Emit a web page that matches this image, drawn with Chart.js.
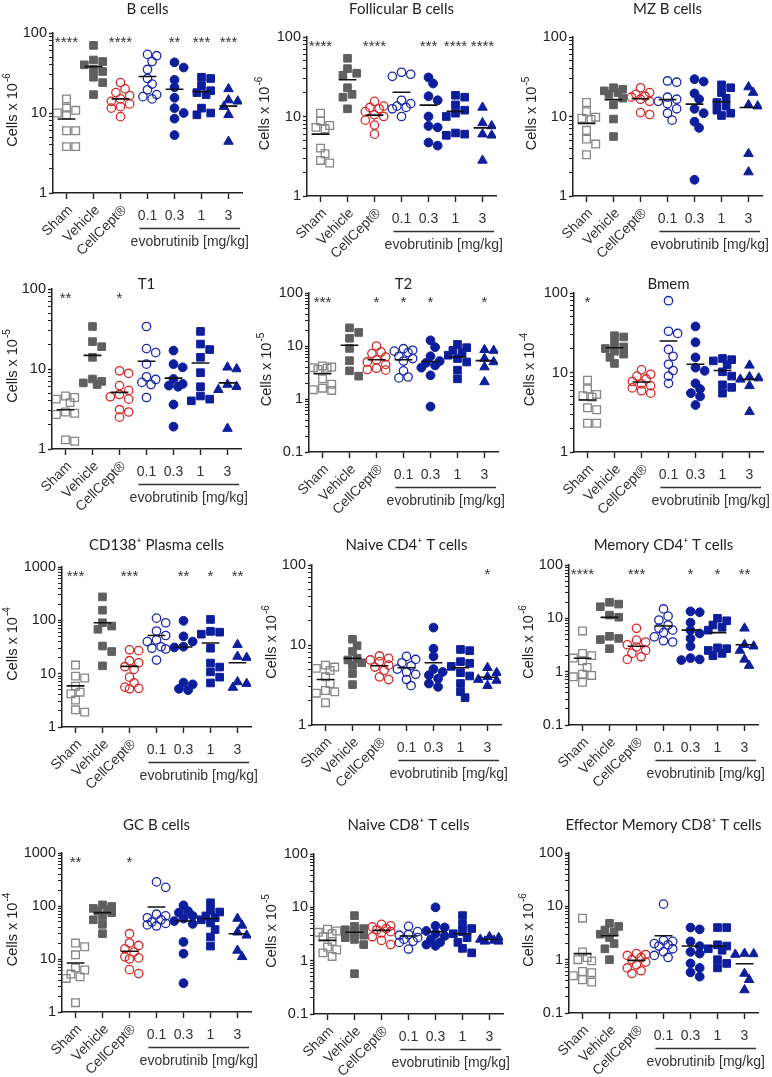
<!DOCTYPE html>
<html><head><meta charset="utf-8">
<script src="https://cdn.jsdelivr.net/npm/chart.js@4.4.1/dist/chart.umd.min.js"></script>
<style>
html,body{margin:0;padding:0;background:#fff;}
body{width:772px;height:1077px;position:relative;overflow:hidden;}
canvas.p{position:absolute;}
</style></head><body>
<script>
// ---------- categories / labels ----------
const groups = ["Sham", "Vehicle", "CellCept®", "0.1", "0.3", "1", "3"];
const doseLabel = "evobrutinib [mg/kg]";

// ---------- B cells (x10^-6) ----------
const bCells = [[15,11.5,10.8,10,9.5,6,6,3.8,3.8],[70,46,44,40,35,33,28,24,17],[24,20,18,16.5,15,14,13,12,11.5,9],[54,52,44,35,27,23,19.5,17,16,15],[43,37,26,21,15.5,11.5,10,8.5,5.3],[28,27,22,19,18,17,11.5,10,9.5],[20,14.5,14,12,9.5,4.4]];
const bCellsMeans = [8.4,38,15,28.6,19.8,18.5,12.2];
const bCellsStars = ["****","","****","","**","***","***"];
// ---------- Follicular B cells (x10^-6) ----------
const follB = [[11,8.8,7.7,7.3,7,4,3.4,2.8,2.6],[54,40,35,33,23,19,17.5,12.5],[15.5,13.5,13,12.5,11.5,10.5,10,9,7.8,6],[36,34,32,16,14.5,13.5,13,12.5,10],[31,26,18,16,10,7.6,7.3,4.7,4.3],[18.5,17.5,14,12,11,10,6.2,6,5.8],[13,8.3,7.6,6,5.8,2.8]];
const follBMeans = [6.0,29,10.4,20.2,13.9,11.6,7.2];
const follBStars = ["****","","****","","***","****","****"];
// ---------- MZ B cells (x10^-5) ----------
const mzB = [[15,11.5,9.8,9.5,9.2,6.7,5.2,4.5,3.3],[23,22,21,20,19,17,14,9.3,5.6],[23,20,19,18,17.5,16.5,15.5,11.2,10.6],[28,27,17.5,16.5,15.5,14.5,12.5,11,9],[29.5,27.5,19.5,16.5,12.5,11,8.6,7.2,1.6],[25,23,20,17,15,13.5,12,11,10.3],[23.5,20,14,13.5,3.4,2]];
const mzBMeans = [8.2,16.3,16.7,16.3,14.3,15.3,13];
const mzBStars = ["","","","","","",""];
// ---------- T1 (x10^-5) ----------
const t1 = [[4.6,4.4,4.2,3.8,2.9,2.8,2.7,1.3,1.25],[34,22,19,14,7.5,7,6.7,6.4],[9.5,8.8,6.2,5.4,4.8,4.5,4.2,3.1,2.9,2.5],[34,18,16,11.5,8,7.4,6.8,6.4,4.4],[17,11.5,10.5,7.5,6.5,6.2,6,3.6,1.9],[29.5,20.5,17.5,14,9,6,4.6,4.2,4],[10.5,10,6.4,6,5.5,1.8]];
const t1Means = [3.1,14.8,5.1,12.5,7.7,11.9,6.7];
const t1Stars = ["**","","*","","","",""];
// ---------- T2 (x10^-5) ----------
const t2 = [[4.2,4.0,3.9,3.8,3.6,2.4,1.9,1.6,1.5,1.45],[22,18,14,9,5.3,3.4,2.7],[10,7.7,7.2,6.2,5.5,5,4.5,3.8,3.6,3.5],[8.9,8.3,8,7.5,6.4,5.8,5.2,3.4,2.6,2.5],[12.8,9.5,6.4,5.2,4.8,4.3,3.9,2.8,0.72],[10.7,9.3,8.3,7.5,6.7,5.8,5,3.5,2.4],[8.5,8.2,5.8,5,4,2.1]];
const t2Means = [3.0,10.3,5.5,5.5,5.1,6.2,5.3];
const t2Stars = ["***","","*","*","*","","*"];
// ---------- Bmem (x10^-4) ----------
const bmem = [[8,6.2,5.3,5.1,4.9,3.6,3.4,2.3,2.3],[29,28,23,21,20,18.5,17,15.5,13],[10.8,9.5,9,8.3,7.7,7.2,6.8,6.4,5.9,5.5],[80,33,31,19.5,16,12.7,10.6,9,7.3],[38,24,15.5,11.5,10.5,7.3,6.2,5.5,5,3.9],[15,14.5,14,12.5,10.2,9,7,6.5,5.5],[12.3,8.8,8.5,8.2,6.8,3.2]];
const bmemMeans = [4.5,20.5,7.6,24.9,12.7,10.6,8.2];
const bmemStars = ["*","","","","","",""];
// ---------- CD138+ Plasma cells (x10^-4) ----------
const cd138 = [[14.5,9,8.3,5.8,4.5,4.2,3.2,2.1,1.9],[275,155,90,78,68,33,26,14],[28,27,17.5,16,13.5,12,8.6,6.7,5.6,5.3,5.2],[110,90,63,52,43,40,32,30,29,18],[98,50,40,32,31,6.8,6.3,5.2,4.9],[104,62,60,55,30,15.8,13.3,10.8,8.6,6.7],[35,21,20,7,6.5,5.5]];
const cd138Means = [5.9,90,13.7,52,31.6,37.5,16];
const cd138Stars = ["***","","***","","**","*","**"];
// ---------- Naive CD4+ T cells (x10^-6) ----------
const naiveCD4 = [[5.6,5.3,5.1,4.8,4.0,3.3,2.7,2.6,2.5,1.9],[11.8,9.8,8.3,6.8,6.5,6,5.6,4.4,3.2],[7.3,6.8,6.5,6.2,5.6,5.3,4.8,4.0,3.7],[7.2,6.6,6,5.5,5,4.6,4.3,3.7,3.1],[16.5,9,7.2,5,4.6,4.2,3.8,3.3,3],[8.8,8.5,6.2,5.9,5.4,4.5,4.1,3.3,2.6,2.2],[5.2,4.5,4.0,3.7,3.6,3.1]];
const naiveCD4Means = [3.7,6.8,5.5,5.2,6.0,5.2,3.95];
const naiveCD4Stars = ["","","","","","","*"];
// ---------- Memory CD4+ T cells (x10^-6) ----------
const memCD4 = [[5.8,2.2,2.0,1.8,1.6,1.2,0.9,0.85,0.8,0.63],[20,18.5,16.5,11.5,10.5,4.6,4.2,4.0,2.7],[6.5,3.9,3.6,3.2,2.9,2.5,2.2,1.9,1.7],[15,11,9.3,7.5,6.5,6,5.4,4.5,3.8,3.6],[13.5,13,8.3,6,5.2,4.2,3,1.8,1.7,1.65],[10,9,7.5,6.8,6,2.8,2.7,2.5,2.2,2],[6.5,3.2,3,2.5,1.7,1.3]];
const memCD4Means = [1.78,10.4,3.0,7.2,6.0,5.4,3.2];
const memCD4Stars = ["****","","***","","*","*","**"];
// ---------- GC B cells (x10^-4) ----------
const gcB = [[20,17,12,6.8,6.2,5.2,4.6,4.3,1.5],[105,98,90,85,80,75,65,55,45,30],[30,20,18,15.5,13.5,11,10.5,10,6.3,5.3],[285,225,70,65,60,55,50,47,44,42],[103,80,75,65,58,52,46,21,12.6,3.5],[115,83,77,65,60,55,48,36,26,17.5],[58,43,32,28,14.5,11]];
const gcBMeans = [8.4,75,14,96,52,58,30];
const gcBStars = ["**","","*","","","",""];
// ---------- Naive CD8+ T cells (x10^-5) ----------
const naiveCD8 = [[3.9,3.6,3.4,3.2,2.8,2.3,1.8,1.6,1.4,1.2],[7,4.4,4,3.8,3.4,3,2.7,2.5,2,0.57],[4.8,4.5,4.3,4,3.8,3.5,3.3,2.8,2.4,2.0],[4.4,3.5,3.1,3,2.7,2.5,2.3,2.2,1.65],[10,4.5,4.2,3.6,3.2,2.9,2.5,2.2,2.0,1.9],[7,4.8,4,3.5,3.2,2.7,2.2,1.7,1.4],[2.8,2.7,2.5,2.4,2.3,2.3]];
const naiveCD8Means = [2.4,3.4,3.7,2.9,3.5,3.2,2.5];
const naiveCD8Stars = ["","","","","","",""];
// ---------- Effector Memory CD8+ T cells (x10^-6) ----------
const effCD8 = [[6,1.4,1.1,1.0,0.95,0.6,0.57,0.5,0.42,0.38],[4.8,4.2,3.6,3.3,3,2.6,2,1.6,1.0],[1.3,1.25,1.2,1.1,1.0,0.9,0.8,0.7,0.62,0.55],[11,2.3,2.2,2.0,1.9,1.8,1.6,1.4,1.2,1.1],[4,3.7,2.2,1.8,1.4,1.3,0.85,0.7,0.58,0.48],[4,4,1.9,1.8,1.6,1.5,1.0,0.85,0.7],[1.3,1.28,1.25,0.55,0.42,0.27]];
const effCD8Means = [1.3,2.8,0.97,2.8,1.8,1.8,0.84];
const effCD8Stars = ["","","","","","",""];

// ---------- panel definitions ----------
const panels = [
  {title:"B cells", yExp:"-6", min:1, max:100, vals:bCells, means:bCellsMeans, stars:bCellsStars},
  {title:"Follicular B cells", yExp:"-6", min:1, max:100, vals:follB, means:follBMeans, stars:follBStars},
  {title:"MZ B cells", yExp:"-5", min:1, max:100, vals:mzB, means:mzBMeans, stars:mzBStars},
  {title:"T1", yExp:"-5", min:1, max:100, vals:t1, means:t1Means, stars:t1Stars},
  {title:"T2", yExp:"-5", min:0.1, max:100, vals:t2, means:t2Means, stars:t2Stars},
  {title:"Bmem", yExp:"-4", min:1, max:100, vals:bmem, means:bmemMeans, stars:bmemStars},
  {title:"CD138\u207A Plasma cells", yExp:"-4", min:1, max:1000, vals:cd138, means:cd138Means, stars:cd138Stars},
  {title:"Naive CD4\u207A T cells", yExp:"-6", min:1, max:100, vals:naiveCD4, means:naiveCD4Means, stars:naiveCD4Stars},
  {title:"Memory CD4\u207A T cells", yExp:"-6", min:0.1, max:100, vals:memCD4, means:memCD4Means, stars:memCD4Stars},
  {title:"GC B cells", yExp:"-4", min:1, max:1000, vals:gcB, means:gcBMeans, stars:gcBStars},
  {title:"Naive CD8\u207A T cells", yExp:"-5", min:0.1, max:100, vals:naiveCD8, means:naiveCD8Means, stars:naiveCD8Stars},
  {title:"Effector Memory CD8\u207A T cells", yExp:"-6", min:0.1, max:100, vals:effCD8, means:effCD8Means, stars:effCD8Stars}
];
const yBase = "Cells x 10";

// ---------- page geometry (layout only) ----------
const geom = [
  {tx:13, ax:53, top:33, bot:193, ty:9},
  {tx:265, ax:307, top:37, bot:196, ty:9},
  {tx:532, ax:573, top:37, bot:196, ty:9},
  {tx:13, ax:52, top:289, bot:449, ty:284},
  {tx:267, ax:309, top:293, bot:452, ty:284},
  {tx:530, ax:574, top:293, bot:452, ty:284},
  {tx:13, ax:62, top:567, bot:727, ty:545},
  {tx:272, ax:312, top:565, bot:725, ty:545},
  {tx:529, ax:569, top:565, bot:725, ty:545},
  {tx:13, ax:62, top:853, bot:1012, ty:825},
  {tx:272, ax:314, top:854, bot:1014, ty:825},
  {tx:529, ax:569, top:853, bot:1013, ty:825}
];
const PLOT_W = 189, CAT_PX = 27;

const BLUE = '#0d1e9c';
const styles = [
  {ps:'rect', r:5.4, bg:'rgba(0,0,0,0)', bc:'#868686', bw:1.3},
  {ps:'rect', r:5.4, bg:'#5f5f5f', bc:'#5f5f5f', bw:1},
  {ps:'circle', r:4.2, bg:'rgba(0,0,0,0)', bc:'#d42a2a', bw:1.3},
  {ps:'circle', r:4.2, bg:'rgba(0,0,0,0)', bc:'#1b28aa', bw:1.3},
  {ps:'circle', r:4.4, bg:BLUE, bc:BLUE, bw:1},
  {ps:'rect', r:5.4, bg:BLUE, bc:BLUE, bw:1},
  {ps:'triangle', r:5.5, bg:BLUE, bc:BLUE, bw:1}
];

// deterministic beeswarm offsets (layout of points inside a category)
function swarm(vals, min, max, plotH) {
  const dec = Math.log10(max) - Math.log10(min);
  const D = 7.2, step = 0.17;
  const placed = [], offs = new Array(vals.length);
  const order = vals.map((v,i)=>i).sort((a,b)=>vals[b]-vals[a]);
  for (const i of order) {
    const y = (Math.log10(vals[i]) - Math.log10(min)) / dec * plotH;
    let best = 0, bestOv = Infinity;
    for (const c of [0, 1, -1, 2, -2]) {
      const x = c * step;
      let ov = 0;
      for (const p of placed) {
        const d = Math.hypot((p.x - x) * CAT_PX, p.y - y);
        if (d < D) ov += D - d;
      }
      if (ov === 0) { best = x; bestOv = 0; break; }
      if (ov < bestOv) { bestOv = ov; best = x; }
    }
    placed.push({x:best, y});
    offs[i] = best;
  }
  return offs;
}

const FONT = '"Liberation Sans", Arial, sans-serif';

const annot = {
  id: 'annot',
  afterDraw(chart, args, o) {
    const ctx = chart.ctx, xs = chart.scales.x, ca = chart.chartArea;
    ctx.save();
    // panel title
    ctx.fillStyle = '#222';
    ctx.font = '15px Lato, "Open Sans", sans-serif';
    ctx.textAlign = 'center'; ctx.textBaseline = 'middle';
    ctx.fillText(o.title, (ca.left + ca.right) / 2, o.titleY);
    // y-axis title with superscript exponent
    ctx.save();
    ctx.translate(o.yTitleX, (ca.top + ca.bottom) / 2 - 3);
    ctx.rotate(-Math.PI / 2);
    ctx.font = '14.5px ' + FONT;
    const wBase = ctx.measureText(yBase).width;
    ctx.font = '10px ' + FONT;
    const wExp = ctx.measureText(o.yExp).width;
    const x0 = -(wBase + wExp + 1) / 2;
    ctx.textAlign = 'left'; ctx.textBaseline = 'middle';
    ctx.font = '14.5px ' + FONT;
    ctx.fillText(yBase, x0, 0);
    ctx.font = '10px ' + FONT;
    ctx.fillText(o.yExp, x0 + wBase + 1, -6);
    ctx.restore();
    // significance stars
    ctx.textAlign = 'center'; ctx.textBaseline = 'middle';
    ctx.font = '15px ' + FONT; ctx.fillStyle = '#333';
    o.stars.forEach((s, i) => { if (s) ctx.fillText(s, xs.getPixelForValue(i), ca.top + 10); });
    // category labels
    ctx.font = '14px ' + FONT;
    ctx.textAlign = 'right'; ctx.textBaseline = 'middle';
    for (let i = 0; i < 3; i++) {
      const x = xs.getPixelForValue(i);
      ctx.save(); ctx.translate(x + 4, ca.bottom + 15); ctx.rotate(-Math.PI / 4);
      ctx.fillText(groups[i], 0, 0); ctx.restore();
    }
    ctx.font = '14px ' + FONT; ctx.textAlign = 'center';
    for (let i = 3; i < 7; i++) ctx.fillText(groups[i], xs.getPixelForValue(i), ca.bottom + 23);
    const a = xs.getPixelForValue(2.7), b = xs.getPixelForValue(6.43);
    ctx.strokeStyle = '#333'; ctx.lineWidth = 1.3;
    ctx.beginPath(); ctx.moveTo(a, ca.bottom + 35.5); ctx.lineTo(b, ca.bottom + 35.5); ctx.stroke();
    ctx.fillText(doseLabel, (a + b) / 2, ca.bottom + 49);
    ctx.restore();
  }
};

function fmt(v) {
  const l = Math.log10(v);
  if (Math.abs(l - Math.round(l)) > 1e-6) return '';
  const p = Math.round(l);
  return p < 0 ? (Math.pow(10, p)).toFixed(-p) : String(Math.pow(10, p));
}

panels.forEach((P, k) => {
  const g = geom[k];
  const left = g.tx - 12, yW = g.ax - left;
  const ctop = g.ty - 12, padTop = g.top - ctop;
  const plotH = g.bot - g.top;
  const xH = 6, bottomArea = 72;
  const W = yW + PLOT_W + 12, H = padTop + plotH + bottomArea;
  const cv = document.createElement('canvas');
  cv.className = 'p'; cv.width = W; cv.height = H;
  cv.style.left = left + 'px'; cv.style.top = ctop + 'px';
  cv.style.width = W + 'px'; cv.style.height = H + 'px';
  document.body.appendChild(cv);

  const datasets = [];
  const meanData = [];
  P.means.forEach((m, i) => {
    meanData.push({x:i - 0.33, y:m}, {x:i + 0.33, y:m}, {x:i + 0.5, y:null});
  });
  datasets.push({type:'line', data:meanData, borderColor:'#111', borderWidth:1.6, pointRadius:0, spanGaps:false, order:0});
  P.vals.forEach((vals, i) => {
    const offs = swarm(vals, P.min, P.max, plotH);
    const s = styles[i];
    datasets.push({
      type:'scatter', order:1,
      data: vals.map((v, j) => ({x: i + offs[j], y: v})),
      pointStyle:s.ps, pointRadius:s.r, pointHoverRadius:s.r,
      backgroundColor:s.bg, borderColor:s.bc, pointBorderWidth:s.bw, borderWidth:s.bw
    });
  });

  new Chart(cv, {
    type:'scatter',
    data:{datasets},
    options:{
      responsive:false, animation:false, devicePixelRatio:1,
      layout:{padding:{left:0, top:padTop, right:12, bottom:bottomArea - xH}},
      plugins:{legend:{display:false}, tooltip:{enabled:false},
        annot:{title:P.title, titleY:g.ty - ctop, stars:P.stars, yExp:P.yExp, yTitleX:g.tx - left}},
      scales:{
        x:{type:'linear', min:-0.5, max:6.5,
          afterBuildTicks: s => { s.ticks = groups.map((_, i) => ({value:i})); },
          afterFit: s => { s.height = xH; },
          ticks:{display:false},
          grid:{drawOnChartArea:false, drawTicks:true, tickLength:6, tickColor:'#222', tickWidth:1.4},
          border:{display:true, color:'#222', width:1.5}
        },
        y:{type:'logarithmic', min:P.min, max:P.max,
          afterBuildTicks: s => {
            const t = [];
            for (let d = Math.round(Math.log10(P.min)); d < Math.round(Math.log10(P.max)); d++)
              for (let m = 1; m <= 9; m++) t.push({value: parseFloat((m * Math.pow(10, d)).toPrecision(6))});
            t.push({value:P.max});
            s.ticks = t;
          },
          afterFit: s => { s.width = yW; },
          ticks:{autoSkip:false, padding:2, color:'#222', font:{family:FONT, size:14.5}, callback: v => fmt(v)},
          grid:{drawOnChartArea:false, drawTicks:true, tickLength:4, tickColor:'#222', tickWidth: c => (c.tick && fmt(c.tick.value)) ? 1.4 : 1},
          border:{display:true, color:'#222', width:1.5},
          title:{display:false}
        }
      }
    },
    plugins:[annot]
  });
});
</script>
</body></html>
